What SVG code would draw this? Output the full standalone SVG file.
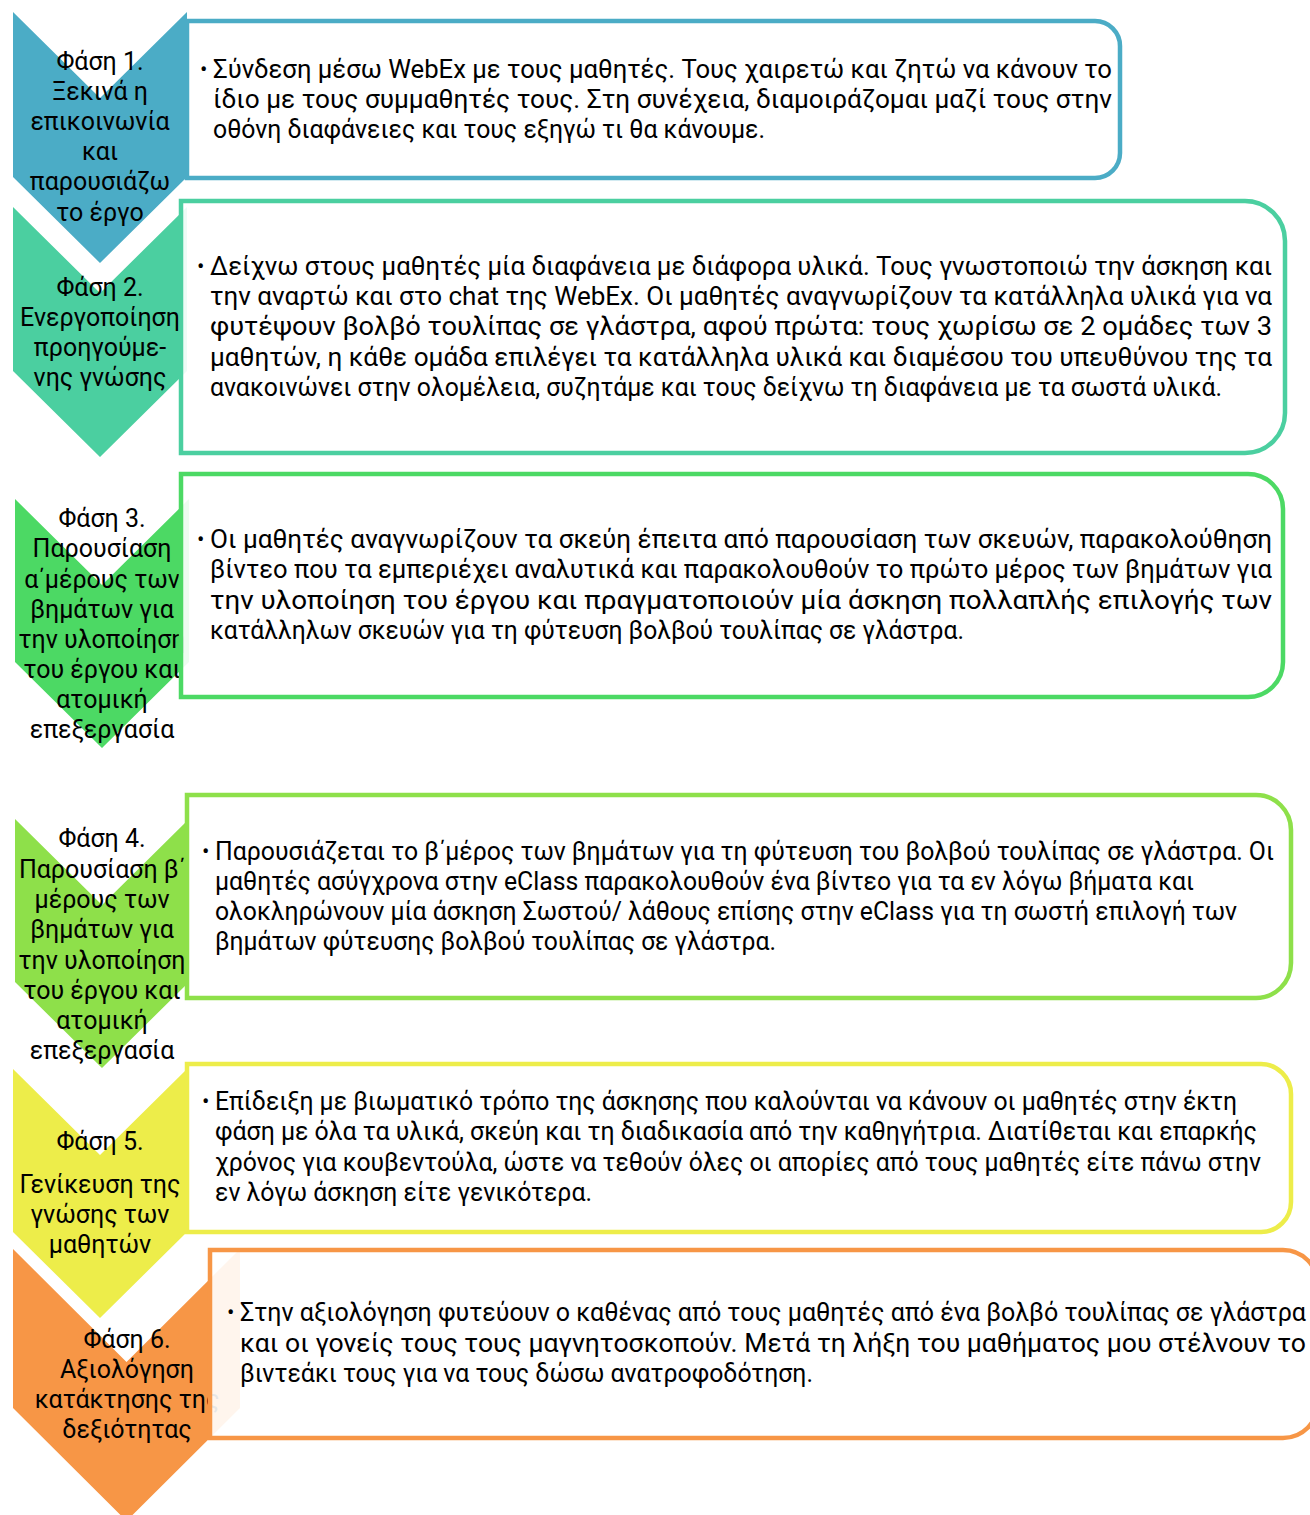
<svg xmlns="http://www.w3.org/2000/svg" width="1310" height="1515" viewBox="0 0 1310 1515">
<style>
.ct{font-family:Roboto,"Noto Sans","DejaVu Sans",sans-serif;font-size:25px;fill:#000;text-anchor:middle}
.bt{font-family:Roboto,"Noto Sans","DejaVu Sans",sans-serif;font-size:25px;fill:#000}
.bu{font-family:Roboto,"Noto Sans","DejaVu Sans",sans-serif;font-size:22px;fill:#000}
.box{fill:#fff;fill-opacity:0.9;stroke-width:4.5}
</style>
<rect width="1310" height="1515" fill="#fff"/>

<g id="phase1">
<path d="M13,12 L100,98 L187,12 L187,177 L100,263 L13,177 Z" fill="#4BACC6"/>
<text class="ct"><tspan x="100" y="70">Φάση 1.</tspan><tspan x="100" y="100">Ξεκινά η</tspan><tspan x="100" y="130">επικοινωνία</tspan><tspan x="100" y="160">και</tspan><tspan x="100" y="190">παρουσιάζω</tspan><tspan x="100" y="221">το έργο</tspan></text>
<path class="box" stroke="#4BACC6" d="M187,21 H1095 A25,25 0 0 1 1120,46 V153 A25,25 0 0 1 1095,178 H187 Z"/>
<text class="bu" x="200" y="77">•</text>
<text class="bt" x="213" y="78" textLength="899" lengthAdjust="spacingAndGlyphs">Σύνδεση μέσω WebEx με τους μαθητές. Τους χαιρετώ και ζητώ να κάνουν το</text>
<text class="bt" x="213" y="108" textLength="899" lengthAdjust="spacingAndGlyphs">ίδιο με τους συμμαθητές τους. Στη συνέχεια, διαμοιράζομαι μαζί τους στην</text>
<text class="bt" x="213" y="138" textLength="552" lengthAdjust="spacingAndGlyphs">οθόνη διαφάνειες και τους εξηγώ τι θα κάνουμε.</text>
</g>

<g id="phase2">
<path d="M13,207 L100,293 L187,207 L187,371 L100,457 L13,371 Z" fill="#4BCFA0"/>
<text class="ct"><tspan x="100" y="296">Φάση 2.</tspan><tspan x="100" y="326">Ενεργοποίηση</tspan><tspan x="100" y="356">προηγούμε-</tspan><tspan x="100" y="386">νης γνώσης</tspan></text>
<path class="box" stroke="#4BCFA0" d="M181,201 H1245 A40,40 0 0 1 1285,241 V413 A40,40 0 0 1 1245,453 H181 Z"/>
<text class="bu" x="197" y="274">•</text>
<text class="bt" x="210" y="275" textLength="1062" lengthAdjust="spacingAndGlyphs">Δείχνω στους μαθητές μία διαφάνεια με διάφορα υλικά. Τους γνωστοποιώ την άσκηση και</text>
<text class="bt" x="210" y="305" textLength="1062" lengthAdjust="spacingAndGlyphs">την αναρτώ και στο chat της WebEx. Οι μαθητές αναγνωρίζουν τα κατάλληλα υλικά για να</text>
<text class="bt" x="210" y="335" textLength="1062" lengthAdjust="spacingAndGlyphs">φυτέψουν βολβό τουλίπας σε γλάστρα, αφού πρώτα: τους χωρίσω σε 2 ομάδες των 3</text>
<text class="bt" x="210" y="366" textLength="1062" lengthAdjust="spacingAndGlyphs">μαθητών, η κάθε ομάδα επιλέγει τα κατάλληλα υλικά και διαμέσου του υπευθύνου της τα</text>
<text class="bt" x="210" y="396" textLength="1012" lengthAdjust="spacingAndGlyphs">ανακοινώνει στην ολομέλεια, συζητάμε και τους δείχνω τη διαφάνεια με τα σωστά υλικά.</text>
</g>

<g id="phase3">
<path d="M15,499 L102,585 L189,499 L189,662 L102,748 L15,662 Z" fill="#4CD964"/>
<text class="ct"><tspan x="102" y="527">Φάση 3.</tspan><tspan x="102" y="557">Παρουσίαση</tspan><tspan x="102" y="588">α΄μέρους των</tspan><tspan x="102" y="618">βημάτων για</tspan><tspan x="102" y="648">την υλοποίηση</tspan><tspan x="102" y="678">του έργου και</tspan><tspan x="102" y="708">ατομική</tspan><tspan x="102" y="738">επεξεργασία</tspan></text>
<path class="box" stroke="#4CD964" d="M181,474 H1248 A35,35 0 0 1 1283,509 V662 A35,35 0 0 1 1248,697 H181 Z"/>
<text class="bu" x="197" y="547">•</text>
<text class="bt" x="210" y="548" textLength="1062" lengthAdjust="spacingAndGlyphs">Οι μαθητές αναγνωρίζουν τα σκεύη έπειτα από παρουσίαση των σκευών, παρακολούθηση</text>
<text class="bt" x="210" y="578" textLength="1062" lengthAdjust="spacingAndGlyphs">βίντεο που τα εμπεριέχει αναλυτικά και παρακολουθούν το πρώτο μέρος των βημάτων για</text>
<text class="bt" x="210" y="609" textLength="1062" lengthAdjust="spacingAndGlyphs">την υλοποίηση του έργου και πραγματοποιούν μία άσκηση πολλαπλής επιλογής των</text>
<text class="bt" x="210" y="639" textLength="754" lengthAdjust="spacingAndGlyphs">κατάλληλων σκευών για τη φύτευση βολβού τουλίπας σε γλάστρα.</text>
</g>

<g id="phase4">
<path d="M15,819 L102,905 L189,819 L189,982 L102,1068 L15,982 Z" fill="#8EE04A"/>
<text class="ct"><tspan x="102" y="847">Φάση 4.</tspan><tspan x="102" y="878">Παρουσίαση β΄</tspan><tspan x="102" y="908">μέρους των</tspan><tspan x="102" y="938">βημάτων  για</tspan><tspan x="102" y="969">την υλοποίηση</tspan><tspan x="102" y="999">του έργου και</tspan><tspan x="102" y="1029">ατομική</tspan><tspan x="102" y="1059">επεξεργασία</tspan></text>
<path class="box" stroke="#8EE04A" d="M187,795 H1256 A35,35 0 0 1 1291,830 V963 A35,35 0 0 1 1256,998 H187 Z"/>
<text class="bu" x="202" y="859">•</text>
<text class="bt" x="215" y="860" textLength="1059" lengthAdjust="spacingAndGlyphs">Παρουσιάζεται το β΄μέρος των βημάτων για τη φύτευση του βολβού τουλίπας σε γλάστρα. Οι</text>
<text class="bt" x="215" y="890" textLength="979" lengthAdjust="spacingAndGlyphs">μαθητές ασύγχρονα στην eClass παρακολουθούν ένα βίντεο για τα εν λόγω βήματα και</text>
<text class="bt" x="215" y="920" textLength="1022" lengthAdjust="spacingAndGlyphs">ολοκληρώνουν μία άσκηση Σωστού/ λάθους επίσης στην eClass για τη σωστή επιλογή των</text>
<text class="bt" x="215" y="950" textLength="561" lengthAdjust="spacingAndGlyphs">βημάτων φύτευσης βολβού τουλίπας σε γλάστρα.</text>
</g>

<g id="phase5">
<path d="M13,1069 L100,1155 L187,1069 L187,1232 L100,1318 L13,1232 Z" fill="#EDED4A"/>
<text class="ct"><tspan x="100" y="1150">Φάση 5.</tspan><tspan x="100" y="1193">Γενίκευση της</tspan><tspan x="100" y="1223">γνώσης των</tspan><tspan x="100" y="1253">μαθητών</tspan></text>
<path class="box" stroke="#EDED4A" d="M187,1064 H1261 A30,30 0 0 1 1291,1094 V1202 A30,30 0 0 1 1261,1232 H187 Z"/>
<text class="bu" x="202" y="1109">•</text>
<text class="bt" x="215" y="1110" textLength="1022" lengthAdjust="spacingAndGlyphs">Επίδειξη με βιωματικό τρόπο της άσκησης που καλούνται να κάνουν οι μαθητές στην έκτη</text>
<text class="bt" x="215" y="1140" textLength="1042" lengthAdjust="spacingAndGlyphs">φάση με όλα τα υλικά, σκεύη και τη διαδικασία από την καθηγήτρια. Διατίθεται και επαρκής</text>
<text class="bt" x="215" y="1171" textLength="1046" lengthAdjust="spacingAndGlyphs">χρόνος για κουβεντούλα, ώστε να τεθούν όλες οι απορίες από τους μαθητές είτε πάνω στην</text>
<text class="bt" x="215" y="1201" textLength="377" lengthAdjust="spacingAndGlyphs">εν λόγω άσκηση είτε γενικότερα.</text>
</g>

<g id="phase6">
<path d="M13,1249 L126.5,1362 L240,1249 L240,1408 L126.5,1521 L13,1408 Z" fill="#F79646"/>
<text class="ct"><tspan x="127" y="1348">Φάση 6.</tspan><tspan x="127" y="1378">Αξιολόγηση</tspan><tspan x="127" y="1408">κατάκτησης της</tspan><tspan x="127" y="1438">δεξιότητας</tspan></text>
<path class="box" stroke="#F79646" d="M210,1250 H1283 A35,35 0 0 1 1318,1285 V1403 A35,35 0 0 1 1283,1438 H210 Z"/>
<text class="bu" x="227" y="1320">•</text>
<text class="bt" x="240" y="1321" textLength="1066" lengthAdjust="spacingAndGlyphs">Στην αξιολόγηση φυτεύουν ο καθένας από τους μαθητές από ένα βολβό τουλίπας σε γλάστρα</text>
<text class="bt" x="240" y="1352" textLength="1066" lengthAdjust="spacingAndGlyphs">και οι γονείς τους τους μαγνητοσκοπούν. Μετά τη λήξη του μαθήματος μου στέλνουν το</text>
<text class="bt" x="240" y="1382" textLength="573" lengthAdjust="spacingAndGlyphs">βιντεάκι τους για να τους δώσω ανατροφοδότηση.</text>
</g>

<g id="connectors"></g>
</svg>
